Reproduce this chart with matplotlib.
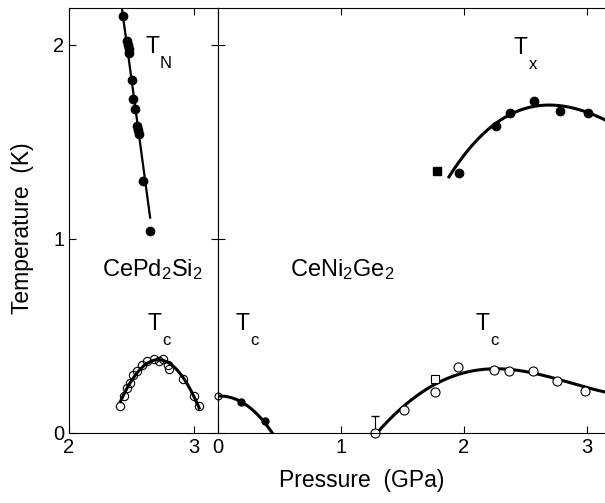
import numpy as np
import matplotlib
matplotlib.use("Agg")
import matplotlib.pyplot as plt

plt.rcParams['font.family'] = ['Liberation Sans', 'DejaVu Sans']
plt.rcParams['mathtext.default'] = 'regular'
plt.rcParams['font.size'] = 14.5

# CePd2Si2: Neel temperature (filled) and superconducting Tc (open)
cepd_tn_p = [2.43, 2.46, 2.47, 2.48, 2.48, 2.50, 2.51, 2.53, 2.54, 2.55, 2.56, 2.59, 2.65]
cepd_tn_t = [2.15, 2.02, 2.00, 1.98, 1.96, 1.82, 1.72, 1.67, 1.58, 1.56, 1.54, 1.30, 1.04]
tn_guide_p = [2.41, 2.648]
tn_guide_t = [2.25, 1.11]

cepd_tc_p = [2.41, 2.44, 2.46, 2.49, 2.51, 2.54, 2.58, 2.62, 2.68, 2.72, 2.75, 2.79, 2.80, 2.91, 3.00, 3.04]
cepd_tc_t = [0.14, 0.19, 0.23, 0.26, 0.30, 0.32, 0.35, 0.37, 0.38, 0.37, 0.38, 0.35, 0.33, 0.28, 0.19, 0.14]

# CeNi2Ge2: low pressure Tc
ceni_low_open_p = [0.0]
ceni_low_open_t = [0.19]
ceni_low_fill_p = [0.19, 0.38]
ceni_low_fill_t = [0.16, 0.06]
low_guide_p = [0.0, 0.1, 0.19, 0.3, 0.38, 0.44]
low_guide_t = [0.19, 0.185, 0.16, 0.105, 0.058, 0.0]

# CeNi2Ge2: high pressure Tc
ceni_tc_p = [1.28, 1.51, 1.77, 1.95, 2.25, 2.37, 2.56, 2.76, 2.99]
ceni_tc_t = [0.0, 0.12, 0.21, 0.34, 0.325, 0.32, 0.317, 0.268, 0.217]
ceni_tc_sq_p = [1.77]
ceni_tc_sq_t = [0.28]
err_p = 1.28
err_up = 0.09
tc_guide_p = [1.29, 1.4, 1.51, 1.64, 1.77, 1.81, 1.94, 2.1, 2.25, 2.37, 2.56, 2.77, 3.0, 3.16]
tc_guide_t = [0.0, 0.07, 0.133, 0.205, 0.255, 0.265, 0.30, 0.322, 0.328, 0.325, 0.316, 0.274, 0.235, 0.21]

# CeNi2Ge2: Tx
tx_p = [1.96, 2.26, 2.38, 2.57, 2.78, 3.01]
tx_t = [1.34, 1.58, 1.65, 1.71, 1.66, 1.65]
tx_sq_p = [1.78]
tx_sq_t = [1.35]
tx_guide_p = [1.88, 2.05, 2.26, 2.38, 2.57, 2.78, 3.01, 3.16]
tx_guide_t = [1.33, 1.45, 1.59, 1.655, 1.697, 1.673, 1.646, 1.616]


def smooth(p, t, deg, n=200):
    c = np.polyfit(p, t, deg)
    x = np.linspace(min(p), max(p), n)
    return x, np.polyval(c, x)


def label_T(ax, x, y, sub):
    ax.text(x, y, "T", fontsize=16.5, ha='center', va='center')
    ax.annotate(sub, (x, y), xytext=(9, -12), textcoords='offset points',
                fontsize=12, ha='center', va='center')


fig = plt.figure(figsize=(6.05, 5.03), dpi=100)
ax1 = fig.add_axes([69/605, 1-433/503, (218-69)/605, (433-8)/503])
ax2 = fig.add_axes([218/605, 1-433/503, (605-218)/605, (433-8)/503])

# left panel
ax1.plot(tn_guide_p, tn_guide_t, color='k', lw=1.6)
ax1.plot(cepd_tn_p, cepd_tn_t, 'o', color='k', ms=6)
x, y = smooth(cepd_tc_p, cepd_tc_t, 2)
ax1.plot(x, y, color='k', lw=2.2)
ax1.plot(cepd_tc_p, cepd_tc_t, 'o', mfc='none', mec='k', ms=6, mew=0.8)
ax1.set_xlim(2, 3.19)
ax1.set_ylim(0, 2.19)
ax1.set_xticks([2, 3])
ax1.set_yticks([0, 1, 2])
ax1.tick_params(direction='in', top=True, right=True, length=5)
ax1.text(2.262, 0.806, r"CePd$_2$Si$_2$", fontsize=17)
label_T(ax1, 2.668, 1.99, "N")
label_T(ax1, 2.68, 0.565, "c")

# right panel
x, y = smooth(low_guide_p, low_guide_t, 3)
ax2.plot(x, y, color='k', lw=2.2)
ax2.plot(ceni_low_open_p, ceni_low_open_t, 'o', mfc='none', mec='k', ms=5, mew=0.8, clip_on=False)
ax2.plot(ceni_low_fill_p, ceni_low_fill_t, 'o', color='k', ms=5)

x, y = smooth(tc_guide_p, tc_guide_t, 4)
ax2.plot(x, y, color='k', lw=2.2)
ax2.errorbar([err_p], [0], yerr=[[0], [err_up]], fmt='none', ecolor='k',
             elinewidth=0.8, capsize=3)
ax2.plot(ceni_tc_p, ceni_tc_t, 'o', mfc='white', mec='k', ms=6.5, mew=0.8, clip_on=False)
ax2.plot(ceni_tc_sq_p, ceni_tc_sq_t, 's', mfc='white', mec='k', ms=6, mew=0.8)

x, y = smooth(tx_guide_p, tx_guide_t, 3)
ax2.plot(x, y, color='k', lw=2.2)
ax2.plot(tx_p, tx_t, 'o', color='k', ms=6)
ax2.plot(tx_sq_p, tx_sq_t, 's', color='k', ms=5.5)

ax2.set_xlim(0, 3.15)
ax2.set_ylim(0, 2.19)
ax2.set_xticks([0, 1, 2, 3])
ax2.set_yticks([0, 1, 2])
ax2.set_yticklabels([])
ax2.spines['right'].set_visible(False)
ax2.tick_params(direction='in', top=True, right=False, length=5)
ax2.text(0.584, 0.806, r"CeNi$_2$Ge$_2$", fontsize=17)
label_T(ax2, 0.197, 0.565, "c")
label_T(ax2, 2.151, 0.565, "c")
label_T(ax2, 2.461, 1.986, "x")

fig.text(23/605, 1-228/503, "Temperature  (K)", rotation=90, ha='center', va='center', fontsize=16.5)
fig.text(362/605, 1-480/503, "Pressure  (GPa)", ha='center', va='center', fontsize=16.5)

fig.savefig("out.png", dpi=100)
